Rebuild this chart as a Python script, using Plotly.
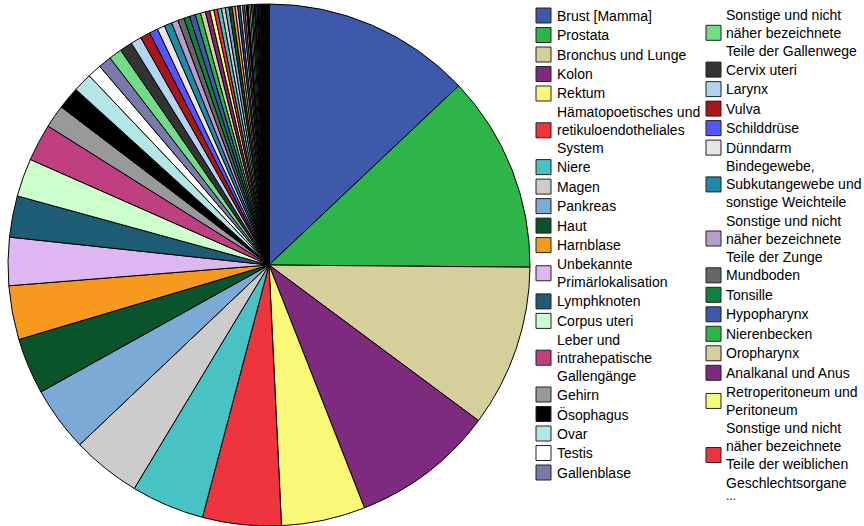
import plotly.graph_objects as go

# Lokalisationen (in der Reihenfolge des Kreisdiagramms), Zeilenumbrueche wie in der Legende
lokalisationen = [
    "Brust [Mamma]", "Prostata", "Bronchus und Lunge", "Kolon", "Rektum",
    "Hämatopoetisches und\nretikuloendotheliales\nSystem", "Niere", "Magen", "Pankreas", "Haut",
    "Harnblase", "Unbekannte\nPrimärlokalisation", "Lymphknoten", "Corpus uteri",
    "Leber und\nintrahepatische\nGallengänge", "Gehirn", "Ösophagus", "Ovar", "Testis", "Gallenblase",
    "Sonstige und nicht\nnäher bezeichnete\nTeile der Gallenwege", "Cervix uteri", "Larynx", "Vulva",
    "Schilddrüse", "Dünndarm", "Bindegewebe,\nSubkutangewebe und\nsonstige Weichteile",
    "Sonstige und nicht\nnäher bezeichnete\nTeile der Zunge", "Mundboden", "Tonsille", "Hypopharynx",
    "Nierenbecken", "Oropharynx", "Analkanal und Anus", "Retroperitoneum und\nPeritoneum",
    "Sonstige und nicht\nnäher bezeichnete\nTeile der weiblichen\nGeschlechtsorgane",
]
anteile = [
    46.6, 43.8, 36.1, 31.9, 18.7, 17.5, 16.3, 15.4, 14.4, 12.5,
    12.0, 10.7, 9.2, 8.5, 8.3, 5.1, 5.0, 4.2, 3.1, 2.9,
    2.9, 2.8, 2.4, 2.2, 1.9, 1.7, 1.7, 1.5, 1.4, 1.3,
    1.3, 1.2, 1.1, 1.0, 0.9, 0.8,
]

# kleine Restgruppen, die in der Legende nur als "..." erscheinen
rest_namen = [
    "Mundhöhle", "Nasopharynx", "Speicheldrüsen", "Penis", "Vagina", "Gaumen", "Lippe",
    "Nasenhöhle und Mittelohr", "Nasennebenhöhlen", "Thymus", "Herz und Mediastinum", "Pleura",
    "Knochen und Gelenkknorpel", "Periphere Nerven", "Auge", "Hirnhäute", "Rückenmark",
    "Nebenniere", "Ureter", "Urethra", "Plazenta", "Zahnfleisch", "Parotis", "Trachea",
    "Rektosigmoid", "Sonstige endokrine Drüsen", "Hypophyse", "Sonstige Harnorgane",
    "Sonstige männliche Genitalorgane", "Sonstige Verdauungsorgane", "Mund, sonstige",
    "Uterus o.n.A.", "Nebenhoden", "Tränendrüse", "Zungengrund", "Sonstige Atmungsorgane",
    "Milz", "Knochenmark", "Lippenrot", "Pharynx o.n.A.", "Thorax", "Sonstige",
]
rest_anteile = [
    0.9, 0.85, 0.8, 0.7, 0.65, 0.6, 0.55, 0.5, 0.45, 0.42, 0.4, 0.37, 0.35, 0.32,
    0.3, 0.28, 0.26, 0.24, 0.22, 0.2, 0.19, 0.18, 0.17, 0.16, 0.15, 0.14, 0.13, 0.12,
    0.11, 0.1, 0.09, 0.08, 0.07, 0.06, 0.05, 0.05, 0.04, 0.04, 0.03, 0.03, 0.02, 0.02,
]

palette = [
    "#3F59AA", "#2EB54A", "#D5CF9B", "#7D2A7F", "#FAF878", "#EE343C", "#48C2C5", "#CCCCCC",
    "#7BAAD6", "#0A542C", "#F7991F", "#DEB6F2", "#1D5C74", "#CCFFCC", "#BE4080", "#999999",
    "#000000", "#B4E6E6", "#FFFFFF", "#7A7AAA", "#72DB88", "#333333", "#B3D3F0", "#A8151C",
    "#5555FF", "#E6E6E6", "#2189A8", "#B89DCC", "#666666", "#108040",
]

labels = [s.replace("\n", " ") for s in lokalisationen] + rest_namen
values = anteile + rest_anteile
colors = [palette[i % len(palette)] for i in range(len(labels))]

W, H = 864, 526

fig = go.Figure(go.Pie(
    labels=labels,
    values=values,
    sort=False,
    direction="clockwise",
    rotation=0,
    textinfo="none",
    showlegend=False,
    marker=dict(colors=colors, line=dict(color="black", width=1)),
    domain=dict(x=[8 / W, 530 / W], y=[0, 522 / H]),
))

# Legende in zwei Spalten, wie im Original (nach 20 Eintraegen umbrechen)
shapes, annotations = [], []
spalten = [(536, 555), (706, 724)]
step, line_h = 19.5, 17.3
for col, (sx, tx) in enumerate(spalten):
    eintraege = range(0, 20) if col == 0 else range(20, len(lokalisationen))
    y = 5.75
    for i in eintraege:
        n = lokalisationen[i].count("\n") + 1
        h = step + (n - 1) * line_h
        yc = y + h / 2
        shapes.append(dict(
            type="rect", xref="paper", yref="paper",
            x0=sx / W, x1=(sx + 15) / W, y0=1 - (yc - 7.5) / H, y1=1 - (yc + 7.5) / H,
            fillcolor=colors[i], line=dict(color="#222222", width=1),
        ))
        annotations.append(dict(
            x=tx / W, y=1 - yc / H, xref="paper", yref="paper",
            xanchor="left", yanchor="middle", align="left", showarrow=False,
            text=lokalisationen[i].replace("\n", "<br>"),
            font=dict(size=14, color="black"),
        ))
        y += h
    if col == 1:
        annotations.append(dict(
            x=tx / W, y=1 - (y + 5) / H, xref="paper", yref="paper",
            xanchor="left", yanchor="middle", showarrow=False,
            text="...", font=dict(size=12, color="black"),
        ))

fig.update_layout(
    width=W, height=H,
    margin=dict(l=0, r=0, t=0, b=0),
    paper_bgcolor="white",
    font=dict(family="Liberation Sans, Arial, sans-serif", color="black"),
    shapes=shapes,
    annotations=annotations,
)

# Seitenrand des Browsers entfernen, damit die Grafik bei (0, 0) beginnt
fig.write_html(
    "out.html",
    config={"displayModeBar": False},
    post_script="document.body.style.margin = '0';",
)
